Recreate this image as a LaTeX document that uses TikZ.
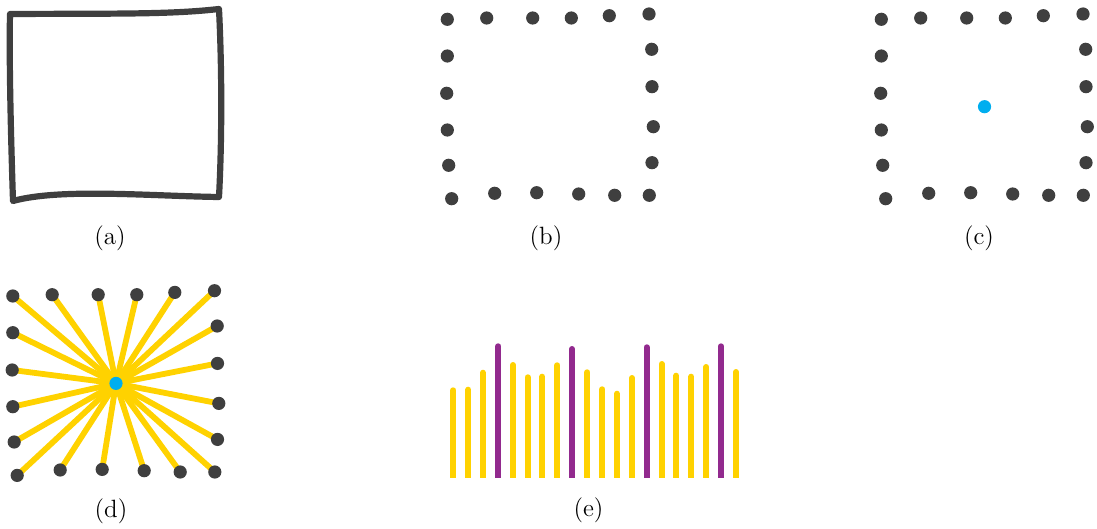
\documentclass[tikz,border=0pt]{standalone}
\usetikzlibrary{backgrounds}
\definecolor{dotgray}{HTML}{3F3F3F}
\definecolor{rayyellow}{HTML}{FFD200}
\definecolor{barpurple}{HTML}{922A8E}
\definecolor{centercyan}{HTML}{00AEEF}
\tikzset{
  dot/.style={circle,fill=dotgray,inner sep=0pt,minimum size=6.6pt},
  cdot/.style={circle,fill=centercyan,inner sep=0pt,minimum size=6.6pt},
  ray/.style={draw=rayyellow,line width=2.9pt},
  outline/.style={draw=dotgray,line width=3.1pt,line join=round,line cap=round},
  caption/.style={font=\fontsize{12.5}{14}\selectfont,inner sep=0pt},
  ybar/.style={draw=rayyellow,line width=3pt,line cap=round},
  pbar/.style={draw=barpurple,line width=3pt,line cap=round}
}
\def\pts{447.3/19.3, 486.7/18, 532.7/18, 571.3/18, 609.3/15.7, 649/14,
  651.7/49.3, 652/86.7, 653.3/126.7, 652/162.7, 649.3/195.3,
  614.7/195.3, 578.7/194, 536.7/192.7, 494.7/193.3, 451.7/198.7,
  448.7/165.3, 447.3/130, 446.7/93.3, 447.3/56}
\begin{document}
\begin{tikzpicture}[x=0.5pt,y=-0.5pt]
\useasboundingbox (0,0) rectangle (1097,529);
% (a)
\draw[outline] (10,14) .. controls (120,13.5) and (170,14.5) .. (219,9)
  .. controls (222,70) and (222,140) .. (219,197)
  .. controls (150,196) and (60,188) .. (13,201)
  .. controls (11,140) and (9,60) .. cycle;
\node[caption] (la) at (110,238.5) {(a)};
% (b)
\foreach [count=\i] \x/\y in \pts { \node[dot] (b\i) at (\x,\y) {}; }
\node[caption] (lb) at (546,238.5) {(b)};
% (c)
\begin{scope}[shift={(434,0)}]
  \foreach [count=\i] \x/\y in \pts { \node[dot] (c\i) at (\x,\y) {}; }
  \node[cdot] (cc) at (550.5,106.7) {};
\end{scope}
\node[caption] (lc) at (979,238.5) {(c)};
% (d)
\begin{scope}[shift={(-434.5,276.7)}]
  \foreach [count=\i] \x/\y in \pts { \node[dot] (d\i) at (\x,\y) {}; }
  \node[cdot] (dc) at (550.5,106.7) {};
  \begin{pgfonlayer}{background}
    \foreach \i in {1,...,20} { \draw[ray] (dc.center) -- (d\i.center); }
  \end{pgfonlayer}
\end{scope}
\node[caption] (ld) at (111,511) {(d)};
% (e)
\begin{scope}
  \clip (430,300) rectangle (760,477.7);
  \foreach \x/\t/\s in {453.3/387.3/ybar, 468.3/386.7/ybar, 483/369.7/ybar,
      498.3/343.3/pbar, 513/362/ybar, 527.7/374.3/ybar, 542.3/373.7/ybar,
      557.3/362.3/ybar, 572/346/pbar, 587.3/369.3/ybar, 602.3/386.3/ybar,
      617/390.7/ybar, 632/375/ybar, 646.7/344.3/pbar, 661.7/361/ybar,
      676.3/372.7/ybar, 691.3/373.7/ybar, 706.3/364/ybar, 721/343.3/pbar,
      736/369/ybar}
    { \draw[\s] (\x,\t+3) -- (\x,490); }
\end{scope}
\node[caption] (le) at (588.5,510) {(e)};
\end{tikzpicture}
\end{document}
